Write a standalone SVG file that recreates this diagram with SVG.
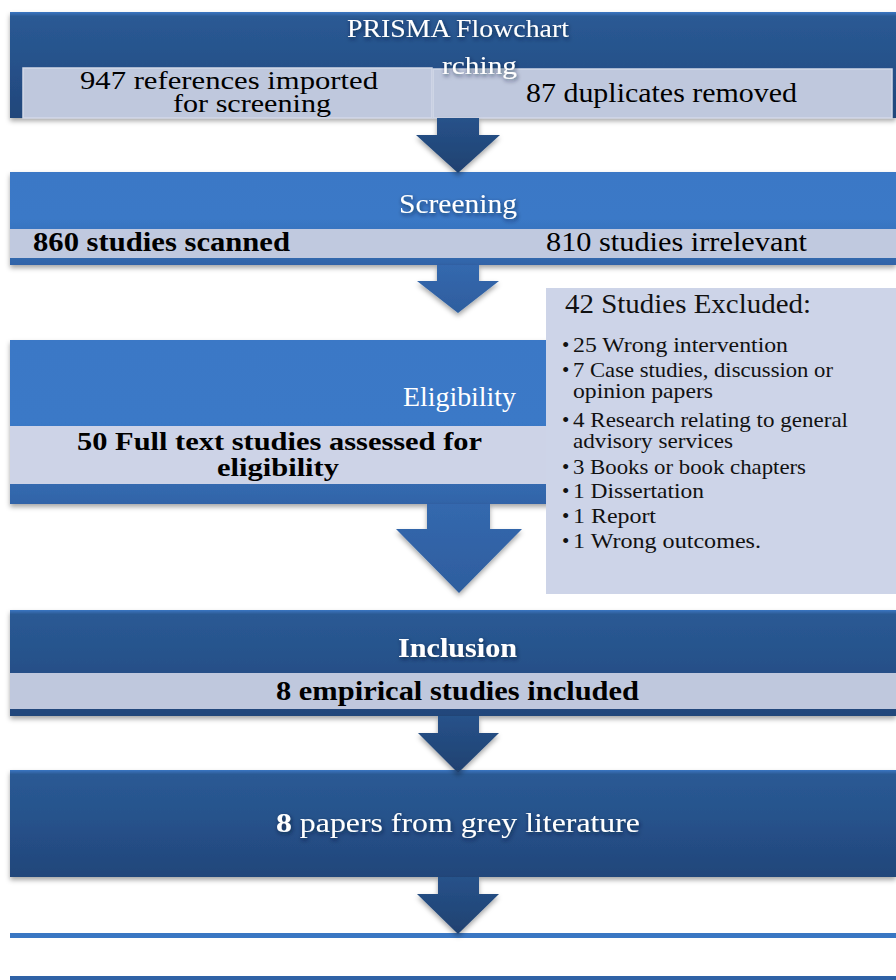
<svg xmlns="http://www.w3.org/2000/svg" width="896" height="980" viewBox="0 0 896 980">
<defs>
  <linearGradient id="gDark" x1="0" y1="0" x2="0" y2="1">
    <stop offset="0" stop-color="#3b76c2"/>
    <stop offset="0.04" stop-color="#2a5a94"/>
    <stop offset="0.5" stop-color="#26518a"/>
    <stop offset="1" stop-color="#22467a"/>
  </linearGradient>
  <linearGradient id="gLight" x1="0" y1="0" x2="0" y2="1">
    <stop offset="0" stop-color="#3a78c6"/>
    <stop offset="0.5" stop-color="#3a79c7"/>
    <stop offset="1" stop-color="#3264a8"/>
  </linearGradient>
  <linearGradient id="gArrowDark" x1="0" y1="0" x2="0" y2="1">
    <stop offset="0" stop-color="#27528a"/>
    <stop offset="1" stop-color="#1f4170"/>
  </linearGradient>
  <linearGradient id="gArrowLight" x1="0" y1="0" x2="0" y2="1">
    <stop offset="0" stop-color="#3468ae"/>
    <stop offset="1" stop-color="#2e5e9e"/>
  </linearGradient>
  <filter id="shadow" x="-5%" y="-20%" width="110%" height="150%">
    <feDropShadow dx="0" dy="3" stdDeviation="2.5" flood-color="#000" flood-opacity="0.35"/>
  </filter>
  <filter id="txtShadow" x="-10%" y="-30%" width="120%" height="170%">
    <feDropShadow dx="1" dy="2" stdDeviation="2" flood-color="#0a1a33" flood-opacity="0.7"/>
  </filter>
  <style>
    text { font-family: "Liberation Serif", "DejaVu Serif", serif; }
    .w { fill: #ffffff; }
    .k { fill: #000000; }
    .b { font-weight: bold; }
    .gray { fill: #bfc8dd; }
    .lav { fill: #cdd4e8; }
    .li { font-size: 21px; fill: #111111; }
  </style>
</defs>

<rect width="896" height="980" fill="#ffffff"/>

<!-- Band 1: Identification -->
<g id="identification">
  <rect x="10" y="12" width="886" height="106" fill="url(#gDark)" filter="url(#shadow)"/>
  <rect x="23" y="68" width="409" height="50" class="gray" stroke="#d3d9e8" stroke-width="1.5"/>
  <rect x="433" y="69" width="459" height="49" class="gray" stroke="#d3d9e8" stroke-width="1.5"/>
  <text x="347" y="37" font-size="26" class="w" textLength="222" lengthAdjust="spacingAndGlyphs" filter="url(#txtShadow)">PRISMA Flowchart</text>
  <text x="442" y="74" font-size="26" class="w" textLength="75" lengthAdjust="spacingAndGlyphs" filter="url(#txtShadow)">rching</text>
  <text x="80" y="89" font-size="25" class="k" textLength="298" lengthAdjust="spacingAndGlyphs">947 references imported</text>
  <text x="173" y="112" font-size="25" class="k" textLength="158" lengthAdjust="spacingAndGlyphs">for screening</text>
  <text x="526" y="102" font-size="28" class="k" textLength="271" lengthAdjust="spacingAndGlyphs">87 duplicates removed</text>
</g>

<!-- Band 2: Screening -->
<g id="screening">
  <rect x="10" y="172" width="886" height="93" fill="url(#gLight)" filter="url(#shadow)"/>
  <rect x="10" y="229" width="886" height="29" fill="#c0c9df"/>
  <text x="399" y="213" font-size="27" class="w" textLength="118" lengthAdjust="spacingAndGlyphs" filter="url(#txtShadow)">Screening</text>
  <text x="33" y="251" font-size="27" class="k b" textLength="257" lengthAdjust="spacingAndGlyphs">860 studies scanned</text>
  <text x="546" y="251" font-size="27" class="k" textLength="261" lengthAdjust="spacingAndGlyphs">810 studies irrelevant</text>
</g>

<!-- Band 3: Eligibility -->
<g id="eligibility">
  <rect x="10" y="340" width="886" height="164" fill="url(#gLight)" filter="url(#shadow)"/>
  <rect x="10" y="426" width="886" height="58" fill="#cdd3e7"/>
  <text x="403" y="406" font-size="28" class="w" textLength="113" lengthAdjust="spacingAndGlyphs">Eligibility</text>
  <text x="77" y="450" font-size="26" class="k b" textLength="405" lengthAdjust="spacingAndGlyphs">50 Full text studies assessed for</text>
  <text x="217" y="476" font-size="26" class="k b" textLength="122" lengthAdjust="spacingAndGlyphs">eligibility</text>
</g>

<!-- Exclusion box -->
<g id="excluded">
  <rect x="546" y="288" width="350" height="306" class="lav"/>
  <text x="565" y="313" font-size="28" fill="#111" textLength="246" lengthAdjust="spacingAndGlyphs">42 Studies Excluded:</text>
  <g class="li">
    <text x="562" y="352">•</text><text x="573" y="352" textLength="215" lengthAdjust="spacingAndGlyphs">25  Wrong intervention</text>
    <text x="562" y="377">•</text><text x="573" y="377" textLength="260" lengthAdjust="spacingAndGlyphs">7 Case studies, discussion or</text>
    <text x="573" y="398" textLength="140" lengthAdjust="spacingAndGlyphs">opinion papers</text>
    <text x="562" y="427">•</text><text x="573" y="427" textLength="275" lengthAdjust="spacingAndGlyphs">4 Research relating to general</text>
    <text x="573" y="448" textLength="160" lengthAdjust="spacingAndGlyphs">advisory services</text>
    <text x="562" y="474">•</text><text x="573" y="474" textLength="233" lengthAdjust="spacingAndGlyphs">3 Books or book chapters</text>
    <text x="562" y="498">•</text><text x="573" y="498" textLength="131" lengthAdjust="spacingAndGlyphs">1 Dissertation</text>
    <text x="562" y="523">•</text><text x="573" y="523" textLength="83" lengthAdjust="spacingAndGlyphs">1 Report</text>
    <text x="562" y="548">•</text><text x="573" y="548" textLength="188" lengthAdjust="spacingAndGlyphs">1 Wrong outcomes.</text>
  </g>
</g>

<!-- Band 4: Inclusion -->
<g id="inclusion">
  <rect x="10" y="610" width="886" height="106" fill="url(#gDark)" filter="url(#shadow)"/>
  <rect x="10" y="673" width="886" height="36" class="gray"/>
  <text x="398" y="657" font-size="27" class="w b" textLength="119" lengthAdjust="spacingAndGlyphs" filter="url(#txtShadow)">Inclusion</text>
  <text x="276" y="700" font-size="28" class="k b" textLength="363" lengthAdjust="spacingAndGlyphs">8 empirical studies included</text>
</g>

<!-- Band 5: grey literature -->
<g id="grey-literature">
  <rect x="10" y="770" width="886" height="107" fill="url(#gDark)" filter="url(#shadow)"/>
  <text x="276" y="832" font-size="28" class="w" textLength="364" lengthAdjust="spacingAndGlyphs" filter="url(#txtShadow)"><tspan class="b">8</tspan> papers from grey literature</text>
</g>

<!-- Band 6: final (empty) -->
<g id="final">
  <rect x="10" y="933" width="886" height="47" fill="#3a77c3"/>
  <rect x="10" y="938" width="886" height="38" fill="#ffffff"/>
  <rect x="10" y="976" width="886" height="4" fill="#2f62a6"/>
</g>

<!-- Connectors -->
<g id="connectors" filter="url(#shadow)">
  <polygon points="437,118 479,118 479,135 500,135 458,173 416,135 437,135" fill="url(#gArrowDark)"/>
  <polygon points="437,265 479,265 479,281 499,281 458,313 417,281 437,281" fill="url(#gArrowLight)"/>
  <polygon points="427,504 490,504 490,529 522,529 459,593 396,529 427,529" fill="url(#gArrowLight)"/>
  <polygon points="438,716 479,716 479,733 499,733 458,773 418,733 438,733" fill="url(#gArrowDark)"/>
  <polygon points="438,877 479,877 479,894 499,894 458,934 417,894 438,894" fill="url(#gArrowDark)"/>
</g>
</svg>
